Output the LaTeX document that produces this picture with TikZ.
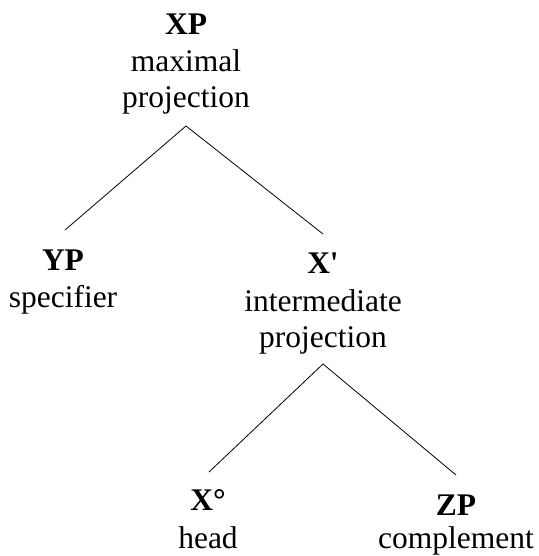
\documentclass[tikz,border=0pt]{standalone}
\usepackage{fontspec}
\setmainfont{Liberation Serif}
\begin{document}
\begin{tikzpicture}[x=1pt,y=-1pt,
  gloss/.style={inner sep=0pt, anchor=base, font=\fontsize{31.5}{36}\selectfont},
  cat/.style={gloss, font=\fontsize{31.5}{36}\selectfont\bfseries},
  branch/.style={draw=black, line width=0.8pt}]
\useasboundingbox (0,0) rectangle (538,556);

% labels: category on top, gloss below
\node[cat]   (xp)     at (186,35)  {XP};
\node[gloss] (xp-a)   at (186,72)  {maximal};
\node[gloss] (xp-b)   at (186,108) {projection};

\node[cat]   (yp)     at (63,270)  {YP};
\node[gloss] (yp-a)   at (63,307)  {specifier};

\node[cat]   (xbar)   at (323,273) {X\textquotesingle};
\node[gloss] (xbar-a) at (323,311) {intermediate};
\node[gloss] (xbar-b) at (323,347) {projection};

\node[cat]   (x0)     at (208,510) {X°};
\node[gloss] (x0-a)   at (208,548) {head};

\node[cat]   (zp)     at (456,515) {ZP};
\node[gloss] (zp-a)   at (456,548) {complement};

% branch attachment points
\coordinate (xp-foot)   at (186,126);
\coordinate (yp-top)    at (65,230);
\coordinate (xbar-top)  at (323,234);
\coordinate (xbar-foot) at (323,364);
\coordinate (x0-top)    at (209,472);
\coordinate (zp-top)    at (456,475);

\draw[branch] (yp-top) -- (xp-foot) -- (xbar-top);
\draw[branch] (x0-top) -- (xbar-foot) -- (zp-top);
\end{tikzpicture}
\end{document}
